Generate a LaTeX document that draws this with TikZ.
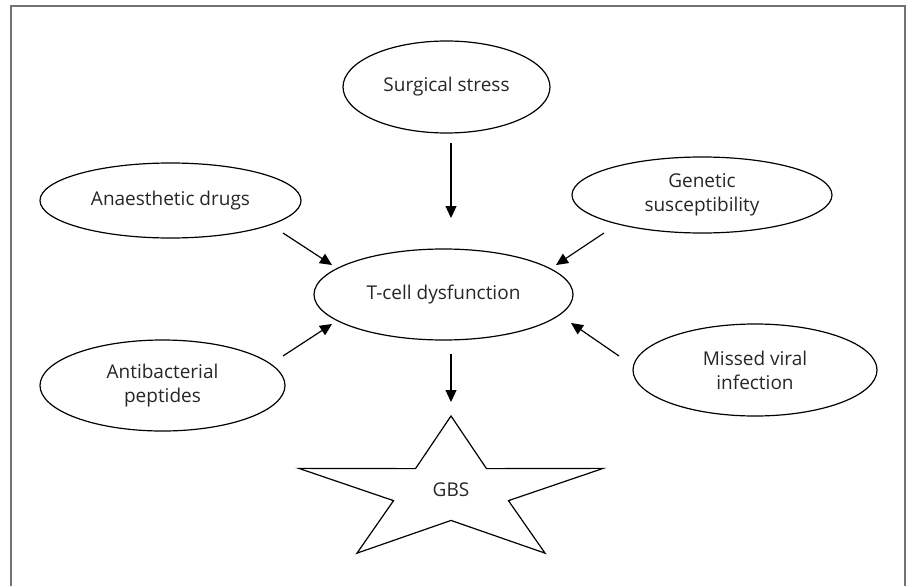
\documentclass[tikz,border=0pt]{standalone}
\usepackage{fontspec}
\setmainfont{Open Sans}
\usetikzlibrary{shapes.geometric,arrows.meta}

\tikzset{
	cause/.style={draw=black, line width=1.2pt, ellipse, inner sep=0pt, align=center,
		text=black!85, font=\fontsize{19}{24}\selectfont},
	fleche/.style={line width=1.2pt, -{Triangle[length=12pt,width=11pt]}},
}

\begin{document}
\begin{tikzpicture}[x=1pt,y=-1pt]
		% cadre : unités en pixels, axe y vers le bas
		\useasboundingbox (0,0) rectangle (912,586);
		\draw[line width=1.7pt, black!55] (11,586) -- (11,6) -- (905,6) -- (905,586);

		% facteurs autour de la dysfonction
		\node[cause, minimum width=207pt, minimum height=92pt] (surgical) at (446.5,87) {Surgical stress};
		\node[cause, minimum width=261pt, minimum height=75pt] (anaesthetic) at (170.5,200.5) {Anaesthetic drugs};
		\node[cause, minimum width=260pt, minimum height=76pt] (genetic) at (702,195) {Genetic\\susceptibility};
		\node[cause, minimum width=259pt, minimum height=91pt] (tcell) at (443.5,294.5) {T-cell dysfunction};
		\node[cause, minimum width=245pt, minimum height=91pt] (antibacterial) at (162.5,385.5) {Antibacterial\\peptides};
		\node[cause, minimum width=244pt, minimum height=92pt] (missed) at (755,370) {Missed viral\\infection};

		% étoile GBS (étoile régulière écrasée en hauteur)
		\pgfmathsetmacro{\starOuter}{160}
		\pgfmathsetmacro{\starInner}{60.4}
		\pgfmathsetmacro{\starSquash}{0.474}
		\begin{scope}[shift={(451,491.8)}, yscale=\starSquash]
			\draw[line width=1.2pt] (270:\starOuter)
				\foreach \k in {1,...,9}{ -- ({270+36*\k}:{mod(\k,2)==1 ? \starInner : \starOuter}) } -- cycle;
		\end{scope}
		\node[text=black!85, font=\fontsize{19}{24}\selectfont] (gbs) at (451,490) {GBS};
		\coordinate (gbsTop) at (451,402);

		% extrémités des flèches
		\coordinate (surgicalOut) at (451,143);
		\coordinate (tcellTop) at (451,218);
		\coordinate (anaestheticOut) at (283,233);
		\coordinate (tcellNW) at (332,265);
		\coordinate (geneticOut) at (604,233);
		\coordinate (tcellNE) at (556,265);
		\coordinate (antibacterialOut) at (283,356);
		\coordinate (tcellSW) at (332,324);
		\coordinate (missedOut) at (619,356);
		\coordinate (tcellSE) at (571,323);
		\coordinate (tcellOut) at (451,354);

		% flèches
		\draw[fleche] (surgicalOut) -- (tcellTop);
		\draw[fleche] (anaestheticOut) -- (tcellNW);
		\draw[fleche] (geneticOut) -- (tcellNE);
		\draw[fleche] (antibacterialOut) -- (tcellSW);
		\draw[fleche] (missedOut) -- (tcellSE);
		\draw[fleche] (tcellOut) -- (gbsTop);
	\end{tikzpicture}
\end{document}
